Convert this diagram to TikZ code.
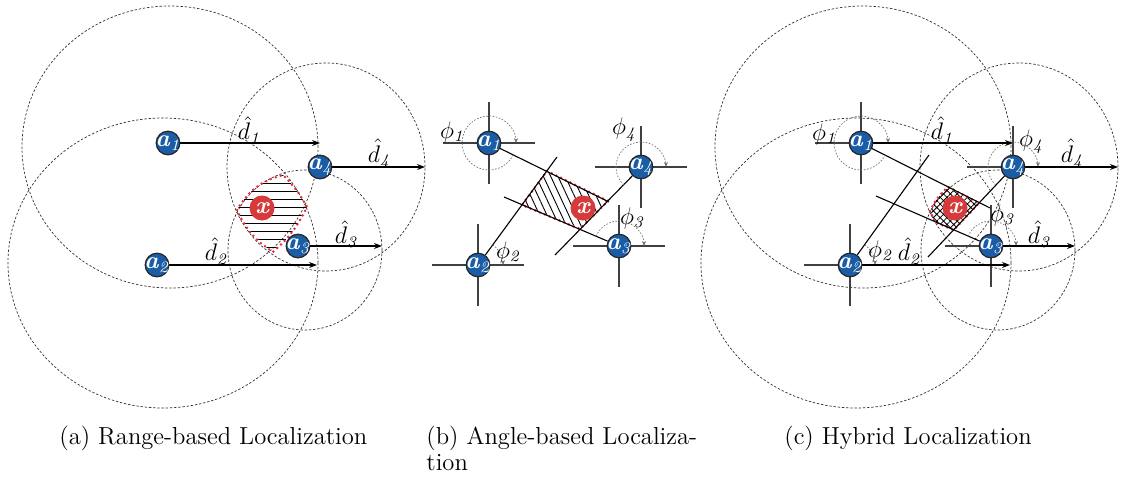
\documentclass[tikz,border=0pt]{standalone}
\usepackage{amsmath}
\usetikzlibrary{arrows.meta,patterns.meta,backgrounds}
\definecolor{ancblue}{HTML}{1A5DA6}
\definecolor{targetred}{HTML}{D63A3A}
\definecolor{zonered}{HTML}{E8283A}
\newcommand{\anclabel}[1]{\makebox[0pt]{\textbf{\textit{a}}\textsubscript{\textit{#1}}}}

\begin{document}
\begin{tikzpicture}[x=0.5pt, y=0.5pt,
    anc/.style={circle, draw=black!85, line width=0.6pt, fill=ancblue, text=white,
                minimum size=11.8pt, inner sep=0pt, font=\fontsize{12}{12}\selectfont},
    tgt/.style={circle, fill=targetred, text=white, minimum size=12.5pt, inner sep=0pt,
                font=\fontsize{12}{12}\selectfont\bfseries\itshape},
    ring/.style={draw=black!80, line width=0.35pt, dash pattern=on 1.2pt off 0.9pt},
    rangearrow/.style={draw=black, line width=0.55pt, -{Stealth[length=4pt,width=3pt]}},
    bearing/.style={draw=black, line width=0.55pt},
    crosshair/.style={draw=black!75, line width=0.55pt},
    hatchline/.style={draw=black, line width=0.45pt},
    sweep/.style={draw=black!55, line width=0.35pt, dash pattern=on 0.8pt off 0.8pt,
                  -{Stealth[length=2.5pt,width=2pt]}},
    zone/.style={draw=zonered, line width=1.4pt, line cap=round, dash pattern=on 0pt off 2.6pt},
    lbl/.style={font=\fontsize{12}{12}\selectfont, inner sep=0pt},
    subcap/.style={font=\fontsize{12.3}{13}\selectfont, anchor=north west, inner sep=0pt, align=left},
]
\useasboundingbox (0,0) rectangle (1121,479);

% Anchors and target
\foreach \p/\dx in {a/0, b/321, c/693} {
  \foreach \i/\x/\y in {1/168/336, 2/157/214, 3/298/233, 4/320/312}
    \node[anc] (\p\i) at (\x+\dx,\y) {\anclabel{\i}};
  \node[tgt] (\p x) at (262+\dx,271) {x};
}

\begin{scope}[on background layer]
% Range circles
\foreach \dx in {0,693}
  \foreach \cx/\cy/\rx/\ry in {170/332/148/141, 163/216/155/145, 305/229/77/80, 326/312/99/104}
    \draw[ring] (\cx+\dx,\cy) ellipse [x radius=\rx, y radius=\ry];

% Feasible regions
\begin{scope}
  \clip (237,269) to[bend left=22] (283,304) to[bend left=8] (307,272)
    to[bend left=11] (273,227) to[bend left=16] (237,269) -- cycle;
  \foreach \y in {224,232,...,312}
    \draw[hatchline] (225,\y) -- (320,\y);
\end{scope}
\draw[zone] (237,269) to[bend left=22] (283,304) to[bend left=8] (307,272)
  to[bend left=11] (273,227) to[bend left=16] (237,269) -- cycle;
\path[pattern={Lines[angle=-65,distance=3.3pt,line width=0.45pt]}, postaction={zone}]
  (547,308) -- (608,278) -- (580,250) -- (522,274) -- cycle;
\path[pattern={Hatch[angle=45,distance=2.4pt,line width=0.4pt]}, postaction={zone}]
  (930,268) to[bend left=11] (948,292) -- (979,276) -- (954,249) -- (935,257) -- cycle;

% Crosshairs and bearings
\foreach \p in {b,c}
  \foreach \i in {1,...,4}
    \draw[crosshair] (\p\i.center) ++(-46,0) -- ++(92,0) (\p\i.center) ++(0,-41) -- ++(0,82);
\foreach \n/\x/\y in {b1/609/277, b2/557/322, b3/504/282, b4/555/224,
                      c1/990/271, c2/929/324, c3/876/283, c4/928/222} {
  \coordinate (\n t) at (\x,\y);
  \draw[bearing] (\n) -- (\n t);
}

% Angle sweeps
\foreach \p in {b,c}
  \foreach \i/\a/\b/\r in {1/-26/-360/27, 2/54/0/25, 3/157/0/25, 4/226/0/25}
    \draw[sweep] (\p\i.center) ++(\a:\r) arc[start angle=\a, end angle=\b, radius=\r];

% Ranges
\foreach \p/\dx in {a/0, c/693}
  \foreach \i/\x/\y in {1/320/336, 2/317/214, 3/382/233, 4/425/312} {
    \coordinate (\p\i r) at (\x+\dx,\y);
    \draw[rangearrow] (\p\i) -- (\p\i r);
  }
\end{scope}

% Labels
\foreach \p/\dx in {a/0, c/693}
  \foreach \i/\x/\y in {1/250/349, 2/217/228, 3/347/245, 4/380/325}
    \node[lbl] (\p d\i) at (\x+\dx,\y) {$\hat{d}_{\mathit{\i}}$};
\foreach \i/\x/\y in {1/453/347, 2/509/227, 3/633/261, 4/625/349}
  \node[lbl] (bp\i) at (\x,\y) {$\phi_{\mathit{\i}}$};
\foreach \i/\x/\y in {1/825/345, 2/881/228, 3/1003/264, 4/1032/337}
  \node[lbl] (cp\i) at (\x,\y) {$\phi_{\mathit{\i}}$};

% Captions
\node[subcap] (capa) at (59,53) {(a) Range-based Localization};
\node[subcap] (capb) at (426,53) {(b) Angle-based Localiza-\\tion};
\node[subcap] (capc) at (784,53) {(c) Hybrid Localization};
\end{tikzpicture}
\end{document}
